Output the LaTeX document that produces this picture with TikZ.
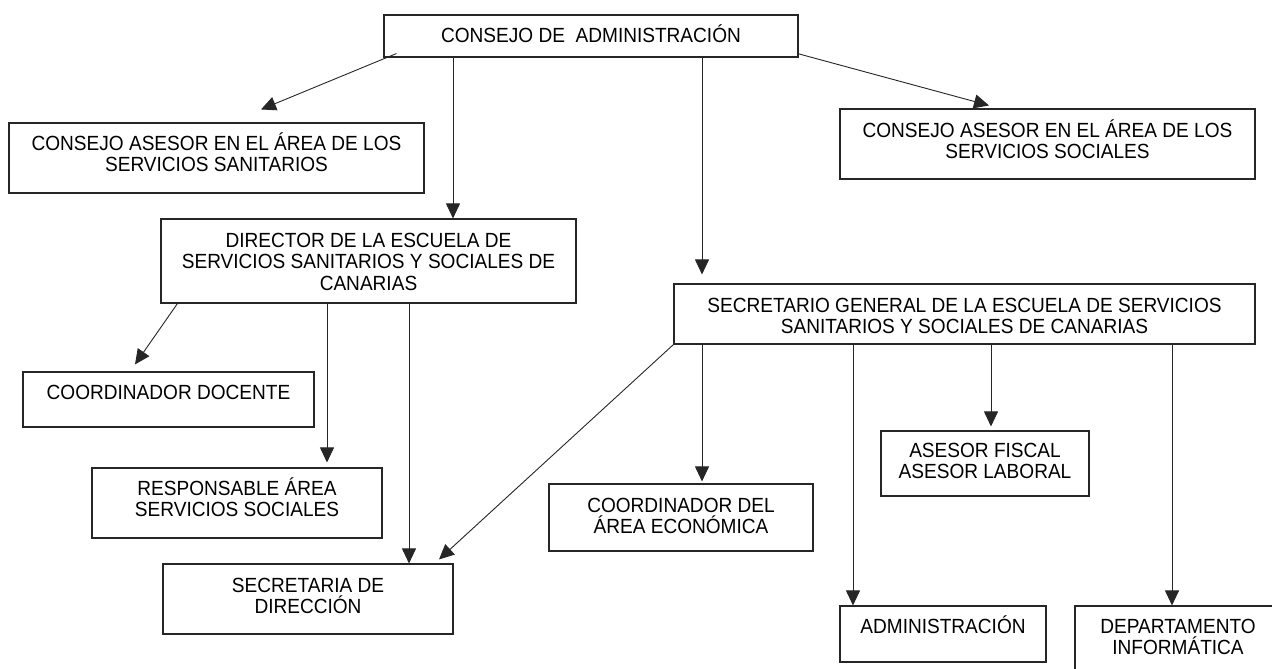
\documentclass[tikz,border=0pt]{standalone}
\usepackage{fontspec}
\setmainfont{Liberation Sans}[FakeStretch=0.93]
\usetikzlibrary{arrows.meta}
\newcommand{\boxtxt}[1]{\vtop{\baselineskip=21.5pt\lineskiplimit=-50pt\lineskip=0pt\halign{\hfil##\hfil\cr#1\crcr}}}
\begin{document}
\begin{tikzpicture}[x=1pt,y=-1pt,
  orgbox/.style={draw=black!85,line width=1.1pt,inner sep=0pt,rectangle},
  txt/.style={inner sep=0pt,anchor=base,font=\fontsize{20.5}{21.5}\selectfont},
  arr/.style={draw=black!85,line width=0.9pt,-{Triangle[length=15pt,width=14pt]}}]
\useasboundingbox (0,0) rectangle (1272,669);
\clip (0,0) rectangle (1272,669);
\fill[white] (0,0) rectangle (1272,669);
% boxes
\node[orgbox,minimum width=414pt,minimum height=42pt] (cadm) at (591,36) {};
\node[orgbox,minimum width=415pt,minimum height=70pt] (csan) at (216.5,158) {};
\node[orgbox,minimum width=415pt,minimum height=70pt] (csoc) at (1047.5,144) {};
\node[orgbox,minimum width=415pt,minimum height=84pt] (dir) at (368.5,261) {};
\node[orgbox,minimum width=581pt,minimum height=60pt] (sec) at (964.5,314) {};
\node[orgbox,minimum width=291pt,minimum height=55pt] (cdoc) at (168.5,399.5) {};
\node[orgbox,minimum width=290pt,minimum height=70pt] (resp) at (237,503) {};
\node[orgbox,minimum width=290pt,minimum height=70pt] (secd) at (308,599) {};
\node[orgbox,minimum width=264pt,minimum height=67pt] (ceco) at (681,517.5) {};
\node[orgbox,minimum width=208pt,minimum height=65pt] (ases) at (985,463.5) {};
\node[orgbox,minimum width=206pt,minimum height=56pt] (adm) at (943,634) {};
\node[orgbox,minimum width=206pt,minimum height=70pt] (dep) at (1178,641) {};
% texts
\node[txt] (cadmT) at (591,43) {\boxtxt{CONSEJO DE\ \ ADMINISTRACIÓN}};
\node[txt] (csanT) at (216.5,150) {\boxtxt{CONSEJO ASESOR EN EL ÁREA DE LOS\cr SERVICIOS SANITARIOS}};
\node[txt] (csocT) at (1047.5,137) {\boxtxt{CONSEJO ASESOR EN EL ÁREA DE LOS\cr SERVICIOS SOCIALES}};
\node[txt] (dirT) at (368.5,247) {\boxtxt{DIRECTOR DE LA ESCUELA DE\cr SERVICIOS SANITARIOS Y SOCIALES DE\cr CANARIAS}};
\node[txt] (secT) at (964.5,312) {\boxtxt{SECRETARIO GENERAL DE LA ESCUELA DE SERVICIOS\cr SANITARIOS Y SOCIALES DE CANARIAS}};
\node[txt] (cdocT) at (168.5,399) {\boxtxt{COORDINADOR DOCENTE}};
\node[txt] (respT) at (237,495) {\boxtxt{RESPONSABLE ÁREA\cr SERVICIOS SOCIALES}};
\node[txt] (secdT) at (308,592) {\boxtxt{SECRETARIA DE\cr DIRECCIÓN}};
\node[txt] (cecoT) at (681,512) {\boxtxt{COORDINADOR DEL\cr ÁREA ECONÓMICA}};
\node[txt] (asesT) at (985,457) {\boxtxt{ASESOR FISCAL\cr ASESOR LABORAL}};
\node[txt] (admT) at (943,633) {\boxtxt{ADMINISTRACIÓN}};
\node[txt] (depT) at (1178,633) {\boxtxt{DEPARTAMENTO\cr INFORMÁTICA}};
% connectors
\draw[arr] ([xshift=13pt,yshift=4pt]cadm.south west) -- ([xshift=44.5pt,yshift=13pt]csan.north);
\draw[arr] ([xshift=-138pt,yshift=2pt]cadm.south) -- ([xshift=84.5pt]dir.north);
\draw[arr] ([xshift=-1pt,yshift=4pt]cadm.south east) -- ([xshift=-58.5pt,yshift=3pt]csoc.north);
\draw[arr] ([xshift=111pt,yshift=2pt]cadm.south) -- ([xshift=-262.5pt,yshift=9pt]sec.north);
\draw[arr] ([xshift=17pt]dir.south west) -- ([xshift=-33.5pt,yshift=7pt]cdoc.north);
\draw[arr] ([xshift=-41.5pt]dir.south) -- ([xshift=90pt,yshift=5pt]resp.north);
\draw[arr] ([xshift=40.5pt]dir.south) -- ([xshift=101pt]secd.north);
\draw[arr] (sec.south west) -- ([xshift=131pt,yshift=4pt]secd.north);
\draw[arr] ([xshift=-262.5pt]sec.south) -- ([xshift=21pt,yshift=2pt]ceco.north);
\draw[arr] ([xshift=-111.5pt]sec.south) -- ([xshift=-90pt]adm.north);
\draw[arr] ([xshift=26.5pt]sec.south) -- ([xshift=6pt,yshift=4pt]ases.north);
\draw[arr] ([xshift=207.5pt]sec.south) -- ([xshift=-6pt]dep.north);
\end{tikzpicture}
\end{document}
